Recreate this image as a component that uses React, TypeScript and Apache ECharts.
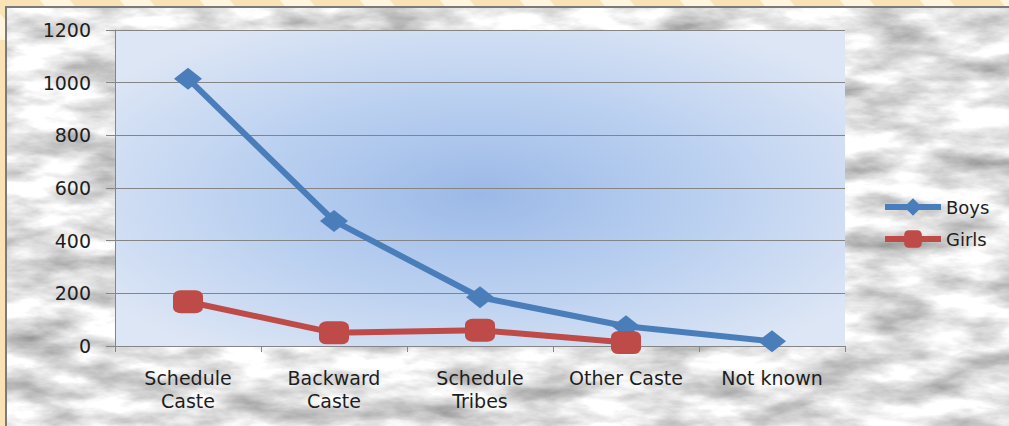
import { useEffect, useRef } from "react";
import * as echarts from "echarts";

// Enrolment by social category
const categories = ["Schedule\nCaste", "Backward\nCaste", "Schedule\nTribes", "Other Caste", "Not known"];
const boys = [1015, 475, 185, 75, 18];
const girls = [168, 50, 60, 13];
const seriesNames = ["Boys", "Girls"];
const yMin = 0;
const yMax = 1200;
const yStep = 200;

const W = 1009;
const H = 426;

// Soft grey marble texture for the chart area, built from SVG fractal noise.
const marbleSvg =
  `<svg xmlns='http://www.w3.org/2000/svg' width='${W}' height='${H}'>` +
  `<filter id='m' x='0' y='0' width='100%' height='100%' color-interpolation-filters='sRGB'>` +
  `<feTurbulence type='fractalNoise' baseFrequency='0.014 0.04' numOctaves='5' seed='7'/>` +
  `<feColorMatrix values='0.7 0 0 0 0.54  0.7 0 0 0 0.54  0.7 0 0 0 0.54  0 0 0 0 1'/>` +
  `</filter><rect width='100%' height='100%' filter='url(#m)'/></svg>`;
const marbleUrl = "data:image/svg+xml;charset=utf-8," + encodeURIComponent(marbleSvg);

// Diagonal stripes of the outer frame
const stripeStarts = [-40, 40, 120, 200, 280, 360, 440, 520, 600, 680, 760, 840, 920, 1000];

export default function App() {
  const ref = useRef<HTMLDivElement>(null);

  useEffect(() => {
    if (!ref.current) return;
    const chart = echarts.init(ref.current, null, { renderer: "svg" });

    const font = "DejaVu Sans";
    const textColor = "#1e1e1e";
    const stripes = stripeStarts.map((x0) => ({
      type: "polygon",
      silent: true,
      z: -20,
      shape: { points: [[x0, 0], [x0 + 30, 0], [x0 + 60, 40], [x0 + 30, 40]] },
      style: { fill: "#fff4de" },
    }));

    chart.setOption({
      animation: false,
      backgroundColor: "#f8e2b6",
      textStyle: { fontFamily: font },
      graphic: [
        ...stripes,
        {
          type: "image",
          silent: true,
          z: -10,
          style: { image: marbleUrl, x: 7, y: 8, width: W - 7, height: H - 8 },
        },
        {
          type: "rect",
          silent: true,
          z: -9,
          shape: { x: 6, y: 7, width: W + 20, height: H + 20 },
          style: { fill: "none", stroke: "#7a7a7a", lineWidth: 2 },
        },
      ],
      grid: {
        left: 115,
        right: W - 845,
        top: 30,
        bottom: H - 346,
        show: true,
        borderWidth: 0,
        backgroundColor: new echarts.graphic.RadialGradient(0.5, 0.52, 0.62, [
          { offset: 0, color: "#9bb9e7" },
          { offset: 0.5, color: "#bad0f0" },
          { offset: 1, color: "#dde6f5" },
        ]),
      },
      legend: {
        orient: "vertical",
        left: 877,
        top: 193,
        itemWidth: 56,
        itemHeight: 22,
        itemGap: 14,
        lineStyle: { width: 6 },
        textStyle: { fontFamily: font, fontSize: 18, color: textColor },
        data: seriesNames,
      },
      xAxis: {
        type: "category",
        data: categories,
        boundaryGap: true,
        axisLine: { show: true, lineStyle: { color: "#858585", width: 1 } },
        axisTick: { show: true, length: 6, alignWithLabel: false, lineStyle: { color: "#858585" } },
        axisLabel: {
          fontFamily: font,
          fontSize: 19,
          color: textColor,
          margin: 20,
          lineHeight: 23,
          interval: 0,
        },
        splitLine: { show: false },
      },
      yAxis: {
        type: "value",
        min: yMin,
        max: yMax,
        interval: yStep,
        axisLine: { show: true, lineStyle: { color: "#858585", width: 1 } },
        axisTick: { show: true, length: 9, lineStyle: { color: "#858585" } },
        axisLabel: {
          fontFamily: font,
          fontSize: 19,
          color: textColor,
          margin: 24,
          formatter: (v: number) => String(v),
        },
        splitLine: { show: true, lineStyle: { color: "#858585", width: 1 } },
      },
      series: [
        {
          name: seriesNames[0],
          type: "line",
          data: boys,
          symbol: "diamond",
          symbolSize: [28, 22],
          lineStyle: { color: "#4a7ebb", width: 6 },
          itemStyle: { color: "#4a7ebb" },
        },
        {
          name: seriesNames[1],
          type: "line",
          data: girls,
          symbol: "roundRect",
          symbolSize: [30, 23],
          lineStyle: { color: "#be4b48", width: 6 },
          itemStyle: { color: "#be4b48" },
        },
      ],
    });

    return () => chart.dispose();
  }, []);

  return (
    <div
      ref={ref}
      style={{ position: "fixed", left: 0, top: 0, width: W, height: H }}
    />
  );
}
